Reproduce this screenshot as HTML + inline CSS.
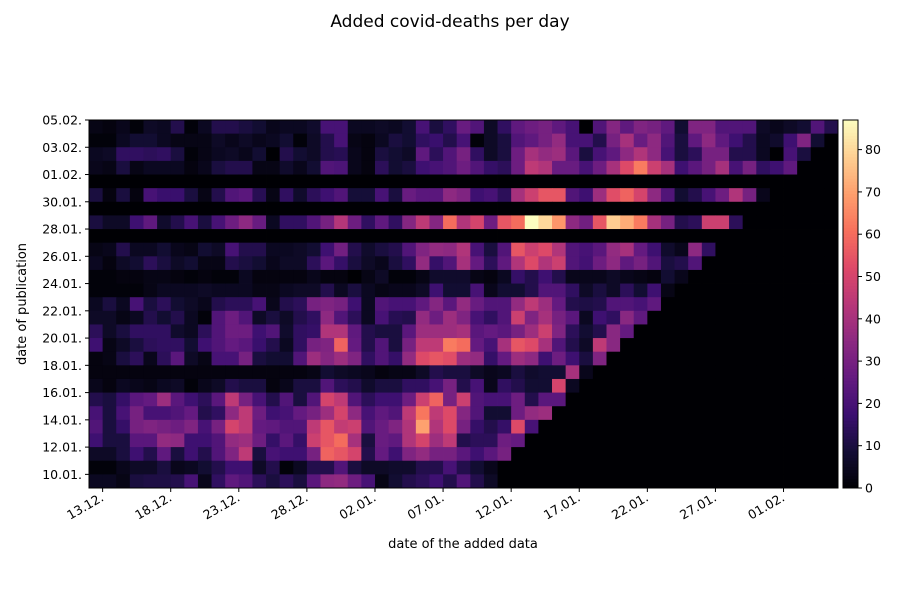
<!DOCTYPE html>
<html><head><meta charset="utf-8"><style>
body{margin:0;background:#fff;}
svg text{font-family:"DejaVu Sans","Liberation Sans",sans-serif;fill:#000;}
</style></head><body>
<svg id="chart" width="900" height="600" xmlns="http://www.w3.org/2000/svg">
<text x="450" y="27" font-size="17" text-anchor="middle">Added covid-deaths per day</text>
<g id="cells"></g>
<g id="axes"></g>
<text x="463" y="548" font-size="13" text-anchor="middle">date of the added data</text>
<text transform="translate(26,304) rotate(-90)" font-size="13" text-anchor="middle">date of publication</text>
</svg>
<script>
const xTickLabels=["13.12.","18.12.","23.12.","28.12.","02.01.","07.01.","12.01.","17.01.","22.01.","27.01.","01.02."];
const xTickIdx=[1,6,11,16,21,26,31,36,41,46,51];
const yTickLabels=["05.02.","03.02.","01.02.","30.01.","28.01.","26.01.","24.01.","22.01.","20.01.","18.01.","16.01.","14.01.","12.01.","10.01."];
const cbTicks=[0,10,20,30,40,50,60,70,80];
const vmax=87;
// rows top (latest publication) to bottom; columns from 12.12. onward; missing = 0
const r0=[3,2,4,1,6,5,12,1,5,12,12,10,8,4,5,5,7,20,20,5,5,6,5,8,20,10,15,27,22,6,15,25,28,30,25,20,0,22,33,25,32,30,25,8,32,32,22,22,22,6,4,6,8,22,12];
const r1=[1,1,5,8,8,5,3,3,3,6,4,6,4,5,8,1,6,12,20,3,2,5,10,8,15,17,12,20,1,6,10,22,25,30,36,20,20,12,30,40,27,35,22,10,25,35,25,18,12,5,7,18,32,8,0];
const r2=[5,6,15,15,14,15,10,1,3,5,6,4,8,0,12,8,6,12,13,4,2,10,8,6,25,14,22,30,15,6,10,28,40,36,38,24,10,20,25,35,42,35,20,10,14,30,30,12,12,5,0,20,10];
const r3=[4,3,10,3,5,5,5,2,4,10,12,12,3,3,7,4,8,22,21,4,2,14,8,10,18,20,22,28,22,16,14,28,45,42,27,27,20,28,40,52,63,48,40,18,24,30,40,20,30,15,18,25];
const r4=[];
const r5=[10,2,10,2,20,17,17,10,3,12,22,24,13,3,15,7,14,18,22,9,9,20,10,27,24,24,35,32,18,20,14,40,48,55,55,22,18,38,53,58,50,35,22,8,12,20,28,42,30,4];
const r6=[];
const r7=[10,6,6,18,25,7,12,20,10,20,28,35,27,5,15,15,22,30,43,28,15,25,15,33,45,33,60,42,50,28,55,60,87,80,68,35,29,55,78,72,63,40,30,12,14,48,48,14];
const r8=[];
const r9=[3,4,12,5,5,8,4,3,8,6,20,12,12,5,5,6,8,18,29,12,7,10,12,22,32,36,35,42,20,10,22,55,48,52,42,22,20,24,36,40,26,18,7,4,35,15];
const r10=[5,2,6,8,14,10,6,8,3,3,12,10,8,4,6,6,14,24,16,10,6,4,10,15,36,16,22,40,26,14,25,42,52,42,48,22,19,28,35,25,30,22,10,12,22];
const r11=[1,1,2,2,3,3,2,1,2,1,1,5,2,2,2,2,4,2,2,0,3,6,1,1,3,7,7,7,3,2,5,16,12,18,12,4,4,4,6,4,3,2,8,4];
const r12=[1,1,1,1,3,5,5,5,6,5,5,5,3,3,5,6,6,12,5,10,5,3,4,4,6,18,8,8,20,4,8,8,12,22,22,15,6,10,6,14,8,18,3];
const r13=[5,10,5,20,10,14,8,6,4,12,14,14,20,4,12,14,30,32,30,18,5,22,20,20,25,33,24,36,27,22,22,36,45,38,26,12,11,12,22,22,20,25];
const r14=[6,6,3,5,12,8,12,5,1,22,28,22,6,10,6,12,15,35,22,14,5,20,13,12,36,28,38,32,20,15,22,48,32,40,30,24,5,18,15,34,25];
const r15=[14,6,10,15,15,15,7,5,14,22,28,28,18,22,7,15,16,42,42,25,12,10,10,24,38,38,38,40,24,26,24,30,38,48,32,14,8,12,34,26];
const r16=[18,3,6,10,14,15,15,8,18,22,26,24,17,12,5,15,30,32,58,26,12,22,10,30,45,45,63,60,26,20,40,55,52,40,22,12,6,45,34];
const r17=[2,3,10,14,4,14,24,6,3,20,20,30,10,8,8,22,38,33,38,32,15,22,16,36,52,55,53,38,36,16,26,38,35,18,28,18,10,32];
const r18=[2,2,2,2,2,2,2,2,2,2,2,2,2,2,2,2,3,8,6,5,4,2,3,3,6,12,10,10,6,4,5,10,7,8,8,40,4];
const r19=[4,2,5,4,3,5,6,1,4,6,12,10,10,2,4,10,10,22,14,12,7,10,10,15,15,20,30,12,20,4,15,12,8,8,50,5];
const r20=[12,10,16,24,26,38,24,18,14,24,45,30,20,12,22,10,22,50,45,22,14,18,18,28,48,58,30,48,22,20,20,28,12,24,24];
const r21=[20,10,20,30,20,20,22,26,12,15,35,45,28,18,20,26,30,38,50,35,20,25,22,45,62,45,52,33,22,8,8,28,36,38];
const r22=[22,10,16,30,32,30,28,32,20,30,50,45,26,25,22,22,45,55,46,48,22,27,32,42,70,42,52,30,16,12,16,52,20];
const r23=[18,10,10,24,24,36,35,18,18,22,36,38,28,16,24,16,48,55,60,40,10,27,25,42,50,38,45,12,14,14,28,26];
const r24=[6,6,10,18,12,25,10,18,12,22,32,45,10,20,18,18,30,58,55,50,12,26,18,32,36,30,30,24,18,24,30];
const r25=[1,1,4,6,6,10,4,5,8,12,18,18,6,12,1,5,12,12,22,10,6,6,7,7,12,12,20,12,8,4];
const r26=[5,5,3,10,11,11,12,20,4,15,25,22,14,10,14,10,24,35,36,28,20,3,8,12,14,18,12,22,12,6];
const grid=[r0,r1,r2,r3,r4,r5,r6,r7,r8,r9,r10,r11,r12,r13,r14,r15,r16,r17,r18,r19,r20,r21,r22,r23,r24,r25,r26];

const NS="http://www.w3.org/2000/svg";
const X0=89,X1=838,Y0=120,Y1=488,NC=55,NR=27;
const xs=i=>X0+(X1-X0)*i/NC;
const ys=j=>Y0+(Y1-Y0)*j/NR;
const magma=["#000004","#140e36","#3b0f70","#641a80","#8c2981","#b73779","#de4968","#f7705c","#fe9f6d","#fecf92","#fcfdbf"];
function hex(h){return [1,3,5].map(k=>parseInt(h.substr(k,2),16));}
function cmap(v){let t=Math.max(0,Math.min(1,v/vmax))*10;let i=Math.min(9,Math.floor(t)),f=t-i;
 const a=hex(magma[i]),b=hex(magma[i+1]);return "rgb("+a.map((c,k)=>Math.round(c+(b[k]-c)*f)).join(",")+")";}
function el(tag,attrs,parent){const e=document.createElementNS(NS,tag);for(const k in attrs)e.setAttribute(k,attrs[k]);parent.appendChild(e);return e;}
const cells=document.getElementById("cells");
for(let j=0;j<NR;j++){for(let i=0;i<NC;i++){const v=grid[j][i]||0;
 const r=el("rect",{x:xs(i).toFixed(2),y:ys(j).toFixed(2),width:((X1-X0)/NC+0.4).toFixed(2),height:((Y1-Y0)/NR+0.4).toFixed(2),fill:cmap(v)},cells);
 
 }}
const ax=document.getElementById("axes");
el("rect",{x:X0,y:Y0,width:X1-X0,height:Y1-Y0,fill:"none",stroke:"#000","stroke-width":1},ax);
xTickIdx.forEach((idx,k)=>{const x=xs(idx);
 el("line",{x1:x,x2:x,y1:Y1,y2:Y1+4,stroke:"#000"},ax);
 const t=el("text",{transform:`translate(${x+2},${Y1+12}) rotate(-30)`,"font-size":12.5,"text-anchor":"end"},ax);
 t.textContent=xTickLabels[k];
 
 });
yTickLabels.forEach((lab,k)=>{const y=ys(2*k);
 el("line",{x1:X0-4,x2:X0,y1:y,y2:y,stroke:"#000"},ax);
 const t=el("text",{x:X0-7,y:y+4.5,"font-size":12.5,"text-anchor":"end"},ax);
 t.textContent=lab;
 
 });
// colorbar
const CB0=843,CB1=858,cbTop=120,cbBot=488;
const cb=el("g",{},ax);


const n=120;for(let k=0;k<n;k++){const h=(cbBot-cbTop)/n;
 el("rect",{x:CB0,y:(cbBot-(k+1)*h).toFixed(2),width:CB1-CB0,height:(h+0.5).toFixed(2),fill:cmap((k+0.5)/n*vmax)},cb);}
el("rect",{x:CB0,y:cbTop,width:CB1-CB0,height:cbBot-cbTop,fill:"none",stroke:"#000"},cb);
const cby=v=>cbBot-(cbBot-cbTop)*v/vmax;
cbTicks.forEach(v=>{const y=cby(v);
 el("line",{x1:CB1,x2:CB1+4,y1:y,y2:y,stroke:"#000"},cb);
 const t=el("text",{x:CB1+7,y:y+4.5,"font-size":12.5},cb);
 t.textContent=v;
 
 });
</script>
</body></html>
